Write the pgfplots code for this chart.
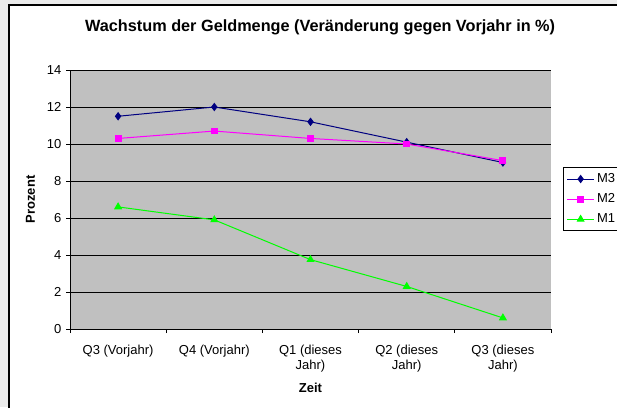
\documentclass[border=0pt]{standalone}
\usepackage{fontspec}
\setmainfont{Liberation Sans}
\usepackage{pgfplots}
\pgfplotsset{compat=1.18}
\definecolor{outergray}{HTML}{EBEBEB}
\definecolor{plotgray}{HTML}{C0C0C0}
\definecolor{mthree}{HTML}{000080}
\definecolor{mtwo}{HTML}{FF00FF}
\definecolor{mone}{HTML}{00FF00}
\begin{document}
\begin{tikzpicture}
\useasboundingbox (0,0) rectangle (462.75pt,-305.25pt);
\clip (0,0) rectangle (462.75pt,-305.25pt);
\fill[outergray] (0,0) rectangle (462.75pt,-305.25pt);
\draw[black, line width=1.5pt, fill=white] ({8.5*0.75pt},{-4.5*0.75pt}) rectangle ({640*0.75pt},{-420*0.75pt});
\begin{axis}[
  at={({70*0.75pt},{-329*0.75pt})}, anchor=south west,
  width={481*0.75pt}, height={259*0.75pt}, scale only axis,
  xmin=-0.5, xmax=4.5, ymin=0, ymax=14,
  axis background/.style={fill=plotgray},
  axis line style={draw=gray!80!black, line width=0.75pt},
  separate axis lines,
  x axis line style={draw=black},
  y axis line style={draw=black},
  axis x line*=bottom, axis y line*=left,
  ytick={0,2,...,14},
  ymajorgrids, grid style={black, line width=0.75pt},
  xtick={0,1,2,3,4},
  xticklabels={Q3 (Vorjahr),Q4 (Vorjahr),Q1 (dieses\\Jahr),Q2 (dieses\\Jahr),Q3 (dieses\\Jahr)},
  xticklabel style={align=center, yshift=-5.2pt, font=\fontsize{9.75}{11.5}\selectfont},
  yticklabel style={font=\fontsize{9.75}{11.5}\selectfont},
  major x tick style={draw=none},
  minor xtick={-0.5,0.5,1.5,2.5,3.5,4.5},
  minor x tick style={black, line width=0.75pt},
  y tick style={black, line width=0.75pt},
  tick align=outside,
  major tick length=3pt, minor tick length=3pt,
  /pgf/number format/assume math mode=true,
  every axis title shift=0pt,
  title={Wachstum der Geldmenge (Veränderung gegen Vorjahr in \%)},
  title style={at={(axis description cs:0.52,1.165)}, anchor=center, font=\bfseries\fontsize{12.2}{14}\selectfont},
  xlabel={Zeit},
  xlabel style={at={(axis description cs:0.5,-0.228)}, anchor=center, font=\bfseries\fontsize{9.75}{11.5}\selectfont},
  ylabel={Prozent},
  ylabel style={at={(axis description cs:-0.0821,0.5)}, anchor=center, rotate=0, font=\bfseries\fontsize{9.75}{11.5}\selectfont},
  legend style={at={(axis description cs:1.025,0.6255)}, anchor=north west, draw=black, line width=0.75pt, fill=white,
    font=\fontsize{9.75}{11.5}\selectfont, row sep=2.8pt, inner sep=2.5pt,
    legend cell align=left},
  legend image code/.code={\draw[mark repeat=2,mark phase=2] plot coordinates {(0cm,0cm) (0.35cm,0cm) (0.7cm,0cm)};},
  clip=false,
]
\addplot[mthree, line width=0.75pt, mark=diamond*, mark size=2.6pt, mark options={fill=mthree, solid}]
  coordinates {(0,11.5) (1,12.0) (2,11.2) (3,10.1) (4,9.0)};
\addlegendentry{M3}
\addplot[mtwo, line width=0.75pt, mark=square*, mark size=2.2pt, mark options={fill=mtwo, solid}]
  coordinates {(0,10.3) (1,10.7) (2,10.3) (3,10.0) (4,9.1)};
\addlegendentry{M2}
\addplot[mone, line width=0.75pt, mark=triangle*, mark size=2.8pt, mark options={fill=mone, solid}]
  coordinates {(0,6.6) (1,5.9) (2,3.75) (3,2.3) (4,0.6)};
\addlegendentry{M1}
\end{axis}
\end{tikzpicture}
\end{document}
